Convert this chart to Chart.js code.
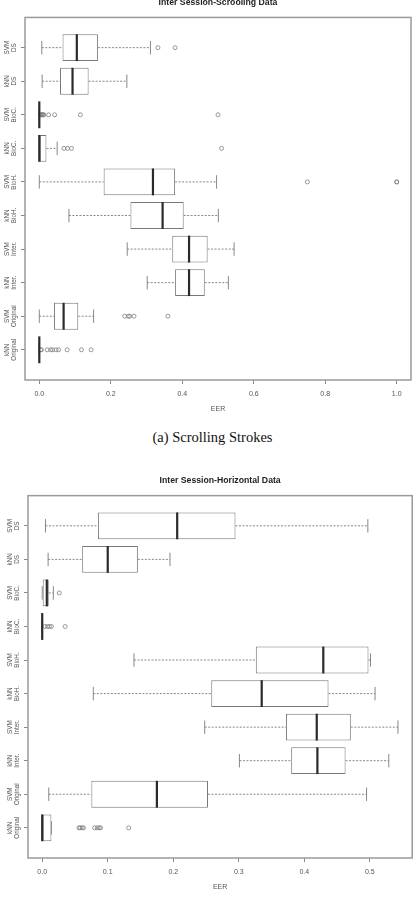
<!DOCTYPE html>
<html>
<head>
<meta charset="utf-8">
<script src="https://cdn.jsdelivr.net/npm/chart.js@4.4.1/dist/chart.umd.min.js"></script>
<style>
  body { margin: 0; background: #fff; width: 417px; height: 906px; overflow: hidden; position: relative; }
  #c1 { position: absolute; left: 0; top: -5px; }
  #c2 { position: absolute; left: 0; top: 465px; }
  .caption { position: absolute; top: 427px; left: 0; width: 425px; text-align: center;
             font-family: "Liberation Serif", "DejaVu Serif", serif; font-size: 14.5px; line-height: 20px; color: #111; }
</style>
</head>
<body>
<canvas id="c1" width="417" height="430"></canvas>
<div class="caption">(a) Scrolling Strokes</div>
<canvas id="c2" width="417" height="441"></canvas>
<script>
// categories, top to bottom
const categories = [
  ['SVM', 'DS'], ['kNN', 'DS'], ['SVM', 'BioC.'], ['kNN', 'BioC.'], ['SVM', 'BioH.'],
  ['kNN', 'BioH.'], ['SVM', 'Inter.'], ['kNN', 'Inter.'], ['SVM', 'Original'], ['kNN', 'Original']
];

// scrolling strokes: whisker low, q1, median, q3, whisker high, outliers
const scrollLow  = [0.007, 0.008, 0,     0,     0,     0.083, 0.246, 0.302, 0,     0];
const scrollQ1   = [0.065, 0.058, 0,     0,     0.180, 0.255, 0.372, 0.380, 0.041, 0];
const scrollMed  = [0.105, 0.093, 0,     0,     0.318, 0.345, 0.419, 0.419, 0.068, 0];
const scrollQ3   = [0.164, 0.138, 0,     0.020, 0.380, 0.404, 0.471, 0.463, 0.109, 0];
const scrollHigh = [0.311, 0.245, 0,     0.050, 0.496, 0.501, 0.545, 0.529, 0.152, 0];
const scrollOut  = [
  [0.332, 0.380],
  [],
  [0.003, 0.005, 0.007, 0.009, 0.011, 0.013, 0.026, 0.043, 0.115, 0.500],
  [0.069, 0.079, 0.090, 0.510],
  [0.750, 1.000, 1.000],
  [],
  [],
  [],
  [0.239, 0.249, 0.253, 0.265, 0.360],
  [0.004, 0.006, 0.022, 0.032, 0.037, 0.047, 0.054, 0.078, 0.118, 0.145]
];
const scrollTicks = [0, 0.2, 0.4, 0.6, 0.8, 1.0];

// horizontal strokes
const horizLow  = [0.005, 0.009, 0,     0, 0.140, 0.078, 0.248, 0.301, 0.010, 0];
const horizQ1   = [0.085, 0.061, 0,     0, 0.326, 0.258, 0.372, 0.380, 0.075, 0];
const horizMed  = [0.206, 0.100, 0.007, 0, 0.429, 0.335, 0.419, 0.420, 0.175, 0];
const horizQ3   = [0.295, 0.146, 0.010, 0, 0.498, 0.437, 0.471, 0.463, 0.253, 0.014];
const horizHigh = [0.497, 0.195, 0.017, 0, 0.501, 0.508, 0.543, 0.529, 0.495, 0.014];
const horizOut  = [
  [],
  [],
  [0.026],
  [0.004, 0.008, 0.011, 0.014, 0.035],
  [],
  [],
  [],
  [],
  [],
  [0.056, 0.058, 0.061, 0.063, 0.080, 0.084, 0.087, 0.089, 0.132]
];
const horizTicks = [0, 0.1, 0.2, 0.3, 0.4, 0.5];

const boxplotPlugin = {
  id: 'boxplot',
  beforeDatasetsDraw(chart, args, opts) {
    const { ctx, chartArea: a, scales: { x, y } } = chart;
    ctx.save();
    // frame
    ctx.strokeStyle = '#9a9a9a';
    ctx.lineWidth = 1.5;
    ctx.strokeRect(a.left, a.top, a.right - a.left, a.bottom - a.top);
    // whiskers
    const half = (y.getPixelForValue(1.2) - y.getPixelForValue(1));
    ctx.strokeStyle = '#7a7a7a';
    ctx.lineWidth = 0.9;
    opts.low.forEach((lo, i) => {
      const py = y.getPixelForValue(i + 1);
      const segs = [[lo, opts.q1[i]], [opts.q3[i], opts.high[i]]];
      ctx.setLineDash([2, 1.5]);
      segs.forEach(([s, e]) => {
        if (e > s) {
          ctx.beginPath();
          ctx.moveTo(x.getPixelForValue(s), py);
          ctx.lineTo(x.getPixelForValue(e), py);
          ctx.stroke();
        }
      });
      ctx.setLineDash([]);
      [lo, opts.high[i]].forEach(v => {
        const px = x.getPixelForValue(v);
        ctx.beginPath();
        ctx.moveTo(px, py - half);
        ctx.lineTo(px, py + half);
        ctx.stroke();
      });
    });
    ctx.restore();
  },
  afterDatasetsDraw(chart, args, opts) {
    const { ctx, scales: { x, y } } = chart;
    const half = (y.getPixelForValue(1.4) - y.getPixelForValue(1));
    ctx.save();
    ctx.strokeStyle = '#2a2a2a';
    ctx.lineWidth = 2.2;
    opts.med.forEach((m, i) => {
      const py = y.getPixelForValue(i + 1);
      const px = x.getPixelForValue(m);
      ctx.beginPath();
      ctx.moveTo(px, py - half);
      ctx.lineTo(px, py + half);
      ctx.stroke();
    });
    // category labels, rotated like R's left axis
    ctx.fillStyle = '#555';
    ctx.font = '6.3px "Liberation Sans", Arial, sans-serif';
    ctx.textAlign = 'center';
    ctx.textBaseline = 'middle';
    const cx = chart.chartArea.left - 14;
    categories.forEach((lab, i) => {
      const py = y.getPixelForValue(i + 1);
      ctx.save();
      ctx.translate(cx, py);
      ctx.rotate(-Math.PI / 2);
      ctx.fillText(lab[0], 0, -3.4);
      ctx.fillText(lab[1], 0, 3.4);
      ctx.restore();
    });
    ctx.restore();
  }
};

function makeChart(id, cfg) {
  const boxes = cfg.q1.map((v, i) => ({ x: [v, cfg.q3[i]], y: i + 1 }));
  const points = cfg.out.flatMap((arr, i) => arr.map(v => ({ x: v, y: i + 1 })));
  return new Chart(document.getElementById(id), {
    type: 'bar',
    data: {
      datasets: [
        {
          type: 'bar',
          data: boxes,
          backgroundColor: '#fff',
          borderColor: '#777',
          borderWidth: 1,
          borderSkipped: false,
          barPercentage: 1,
          categoryPercentage: 0.8
        },
        {
          type: 'scatter',
          data: points,
          pointStyle: 'circle',
          pointRadius: 2,
          backgroundColor: 'rgba(0,0,0,0)',
          borderColor: '#808080',
          borderWidth: 0.8
        }
      ]
    },
    options: {
      indexAxis: 'y',
      responsive: false,
      animation: false,
      layout: { padding: { left: 0, right: cfg.rightPad, top: 0, bottom: 0 } },
      plugins: {
        legend: { display: false },
        tooltip: { enabled: false },
        title: {
          display: true,
          text: cfg.title,
          fullSize: false,
          color: '#222',
          font: { family: '"Liberation Sans", Arial, sans-serif', size: 8.7, weight: 'bold' },
          padding: { top: cfg.titleTop, bottom: cfg.titleBottom }
        },
        boxplot: { low: cfg.low, q1: cfg.q1, med: cfg.med, q3: cfg.q3, high: cfg.high }
      },
      scales: {
        x: {
          type: 'linear',
          position: 'bottom',
          min: cfg.xMin,
          max: cfg.xMax,
          afterBuildTicks: s => { s.ticks = cfg.ticks.map(v => ({ value: v })); },
          afterFit: s => { s.height = cfg.axisH; },
          grid: { display: true, drawOnChartArea: false, drawTicks: true, tickLength: 4, color: '#888', lineWidth: 1 },
          border: { display: false },
          ticks: {
            color: '#555',
            padding: 5.5,
            maxRotation: 0,
            autoSkip: false,
            font: { family: '"Liberation Sans", Arial, sans-serif', size: 7 },
            callback: v => v.toFixed(1)
          },
          title: {
            display: true,
            text: 'EER',
            color: '#555',
            font: { family: '"Liberation Sans", Arial, sans-serif', size: 7 },
            padding: { top: 0, bottom: cfg.eerPad }
          }
        },
        y: {
          type: 'linear',
          position: 'left',
          min: 0.1,
          max: 10.9,
          reverse: true,
          offset: false,
          afterBuildTicks: s => { s.ticks = categories.map((c, i) => ({ value: i + 1 })); },
          afterFit: s => { s.width = cfg.leftW; },
          grid: { display: true, offset: false, drawOnChartArea: false, drawTicks: true, tickLength: 4, color: '#888', lineWidth: 1 },
          border: { display: false },
          ticks: { display: false }
        }
      }
    },
    plugins: [boxplotPlugin]
  });
}

makeChart('c1', {
  title: 'Inter Session-Scrooling Data',
  low: scrollLow, q1: scrollQ1, med: scrollMed, q3: scrollQ3, high: scrollHigh, out: scrollOut,
  ticks: scrollTicks, xMin: -0.04, xMax: 1.04,
  leftW: 25, rightPad: 6, titleTop: 2, titleBottom: 10, axisH: 45, eerPad: 12
});

makeChart('c2', {
  title: 'Inter Session-Horizontal Data',
  low: horizLow, q1: horizQ1, med: horizMed, q3: horizQ3, high: horizHigh, out: horizOut,
  ticks: horizTicks, xMin: -0.0217, xMax: 0.5647,
  leftW: 28, rightPad: 4, titleTop: 10.5, titleBottom: 9.7, axisH: 48, eerPad: 15
});
</script>
</body>
</html>
